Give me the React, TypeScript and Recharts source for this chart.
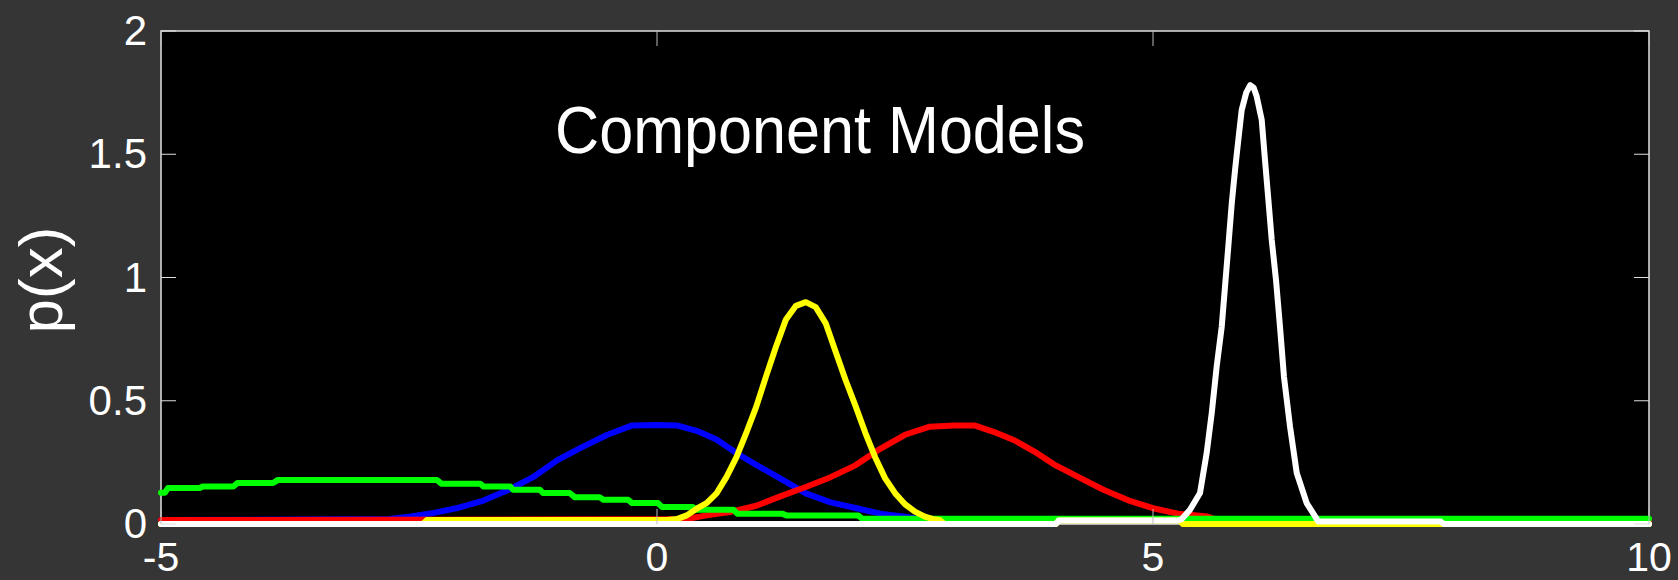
import { LineChart, Line, XAxis, YAxis } from "recharts";

/* ─── Layout ─── */
const W = 1678;
const H = 580;
const PLOT_LEFT = 161;
const PLOT_TOP = 31;
const PLOT_W = 1488;
const PLOT_H = 493;
const PLOT_RIGHT = PLOT_LEFT + PLOT_W;
const PLOT_BOTTOM = PLOT_TOP + PLOT_H;
const TICK_LEN = 15;
const BG = "#353535";
const FONT = "'Liberation Sans', Arial, Helvetica, sans-serif";

/* ─── Axis ticks ─── */
const X_TICKS = [-5, 0, 5, 10];
const Y_TICKS = [0, 0.5, 1, 1.5, 2];

/* ─── Series (x / p(x)) ─── */
const BLUE_X = [-5, -2.7, -2.5, -2.25, -2, -1.75, -1.5, -1.25, -1, -0.75, -0.5, -0.25, 0, 0.2, 0.4, 0.6, 0.8, 1, 1.25, 1.5, 1.75, 2, 2.25, 2.5, 2.7, 10];
const BLUE_Y = [0.016, 0.02, 0.03, 0.045, 0.066, 0.095, 0.138, 0.19, 0.26, 0.313, 0.362, 0.4, 0.402, 0.4, 0.378, 0.343, 0.288, 0.24, 0.183, 0.124, 0.088, 0.065, 0.042, 0.03, 0.016, 0.016];

const RED_X = [-5, 0.3, 0.5, 0.75, 1, 1.25, 1.5, 1.75, 2, 2.25, 2.5, 2.75, 3, 3.2, 3.4, 3.6, 3.8, 4, 4.25, 4.5, 4.75, 5, 5.25, 5.55, 5.65, 10];
const RED_Y = [0.016, 0.02, 0.035, 0.05, 0.074, 0.113, 0.15, 0.19, 0.238, 0.305, 0.362, 0.395, 0.4, 0.4, 0.373, 0.34, 0.295, 0.242, 0.19, 0.139, 0.096, 0.064, 0.042, 0.03, 0.016, 0.016];

const GREEN_X = [-5, -4.96, -4.93, -4.61, -4.58, -4.27, -4.23, -3.87, -3.82, -2.22, -2.17, -1.78, -1.75, -1.48, -1.45, -1.18, -1.15, -0.88, -0.83, -0.58, -0.54, -0.29, -0.25, 0.01, 0.05, 0.36, 0.4, 0.77, 0.81, 1.26, 1.31, 2.03, 2.07, 10];
const GREEN_Y = [0.127, 0.127, 0.146, 0.146, 0.152, 0.152, 0.166, 0.166, 0.179, 0.179, 0.163, 0.163, 0.152, 0.152, 0.139, 0.139, 0.126, 0.126, 0.109, 0.109, 0.098, 0.098, 0.085, 0.085, 0.069, 0.069, 0.058, 0.058, 0.042, 0.042, 0.034, 0.034, 0.021, 0.021];

const YELLOW_X = [-5, -2.36, -2.32, 0.1, 0.2, 0.3, 0.4, 0.5, 0.6, 0.7, 0.8, 0.9, 1, 1.1, 1.2, 1.3, 1.4, 1.5, 1.6, 1.7, 1.8, 1.9, 2, 2.1, 2.2, 2.3, 2.4, 2.5, 2.6, 2.7, 2.8, 2.85, 2.9, 4.02, 4.05, 5.27, 5.3, 10];
const YELLOW_Y = [0, 0, 0.016, 0.016, 0.02, 0.035, 0.062, 0.085, 0.124, 0.19, 0.27, 0.37, 0.475, 0.6, 0.72, 0.83, 0.885, 0.9, 0.88, 0.815, 0.7, 0.585, 0.48, 0.37, 0.27, 0.185, 0.125, 0.08, 0.05, 0.03, 0.018, 0.016, 0, 0, 0.014, 0.014, 0, 0];

const WHITE_X = [-5, 4.02, 4.05, 5.25, 5.29, 5.373, 5.474, 5.541, 5.592, 5.642, 5.693, 5.726, 5.759, 5.794, 5.827, 5.86, 5.894, 5.94, 5.98, 6.015, 6.045, 6.096, 6.129, 6.163, 6.197, 6.24, 6.28, 6.32, 6.381, 6.449, 6.549, 6.667, 7.9, 7.93, 10];
const WHITE_Y = [0, 0, 0.014, 0.014, 0.02, 0.058, 0.126, 0.288, 0.45, 0.639, 0.801, 0.963, 1.125, 1.301, 1.436, 1.558, 1.679, 1.75, 1.78, 1.77, 1.735, 1.639, 1.477, 1.315, 1.152, 0.99, 0.801, 0.598, 0.396, 0.207, 0.085, 0.01, 0.01, 0, 0];

const toPoints = (xs: number[], ys: number[]) => xs.map((x, i) => ({ x, y: ys[i] }));

const SERIES = [
  { name: "blue", color: "#0000ff", data: toPoints(BLUE_X, BLUE_Y) },
  { name: "red", color: "#ff0000", data: toPoints(RED_X, RED_Y) },
  { name: "green", color: "#00ff00", data: toPoints(GREEN_X, GREEN_Y) },
  { name: "yellow", color: "#ffff00", data: toPoints(YELLOW_X, YELLOW_Y) },
  { name: "white", color: "#ffffff", data: toPoints(WHITE_X, WHITE_Y) },
];

/* ─── Ticks drawn inward on both sides, MATLAB style ─── */
function XTick(props: any) {
  const { x, y, payload } = props;
  return (
    <g>
      <line x1={x} x2={x} y1={PLOT_BOTTOM} y2={PLOT_BOTTOM - TICK_LEN} stroke="#bbb" />
      <line x1={x} x2={x} y1={PLOT_TOP} y2={PLOT_TOP + TICK_LEN} stroke="#bbb" />
      <text x={x} y={y + 47} textAnchor="middle" fill="#fff" fontSize={41} fontFamily={FONT}>
        {payload.value}
      </text>
    </g>
  );
}

function YTick(props: any) {
  const { x, y, payload } = props;
  return (
    <g>
      <line x1={PLOT_LEFT} x2={PLOT_LEFT + TICK_LEN} y1={y} y2={y} stroke="#ddd" />
      <line x1={PLOT_RIGHT - TICK_LEN} x2={PLOT_RIGHT} y1={y} y2={y} stroke="#ddd" />
      <text x={x} y={y + 14} textAnchor="end" fill="#fff" fontSize={42} fontFamily={FONT}>
        {payload.value}
      </text>
    </g>
  );
}

export default function App() {
  return (
    <div style={{ position: "fixed", left: 0, top: 0, width: W, height: H, background: BG }}>
      {/* plot box, title, y label */}
      <svg width={W} height={H} style={{ position: "absolute", left: 0, top: 0 }}>
        <rect x={PLOT_LEFT} y={PLOT_TOP} width={PLOT_W} height={PLOT_H} fill="#000" stroke="#e0e0e0" strokeWidth={1.5} />
        <text x={820} y={153} textAnchor="middle" fill="#fff" fontSize={67} fontFamily={FONT} textLength={530} lengthAdjust="spacingAndGlyphs">
          Component Models
        </text>
        <text x={62} y={280} transform="rotate(-90, 62, 280)" textAnchor="middle" fill="#fff" fontSize={62} fontFamily={FONT}>
          p(x)
        </text>
      </svg>

      <div style={{ position: "absolute", left: 0, top: 0 }}>
        <LineChart width={W} height={H} margin={{ top: PLOT_TOP, right: W - PLOT_RIGHT, bottom: 0, left: 0 }}>
          <XAxis
            type="number"
            dataKey="x"
            domain={[-5, 10]}
            ticks={X_TICKS}
            interval={0}
            height={H - PLOT_BOTTOM}
            axisLine={false}
            tickLine={false}
            tickSize={0}
            tickMargin={0}
            tick={XTick}
          />
          <YAxis
            type="number"
            dataKey="y"
            domain={[0, 2]}
            ticks={Y_TICKS}
            interval={0}
            width={PLOT_LEFT}
            axisLine={false}
            tickLine={false}
            tickSize={0}
            tickMargin={14}
            tick={YTick}
          />
          {SERIES.map((s) => (
            <Line
              key={s.name}
              data={s.data}
              dataKey="y"
              type="linear"
              stroke={s.color}
              strokeWidth={6}
              strokeLinejoin="round"
              strokeLinecap="round"
              dot={false}
              activeDot={false}
              isAnimationActive={false}
            />
          ))}
        </LineChart>
      </div>
    </div>
  );
}
